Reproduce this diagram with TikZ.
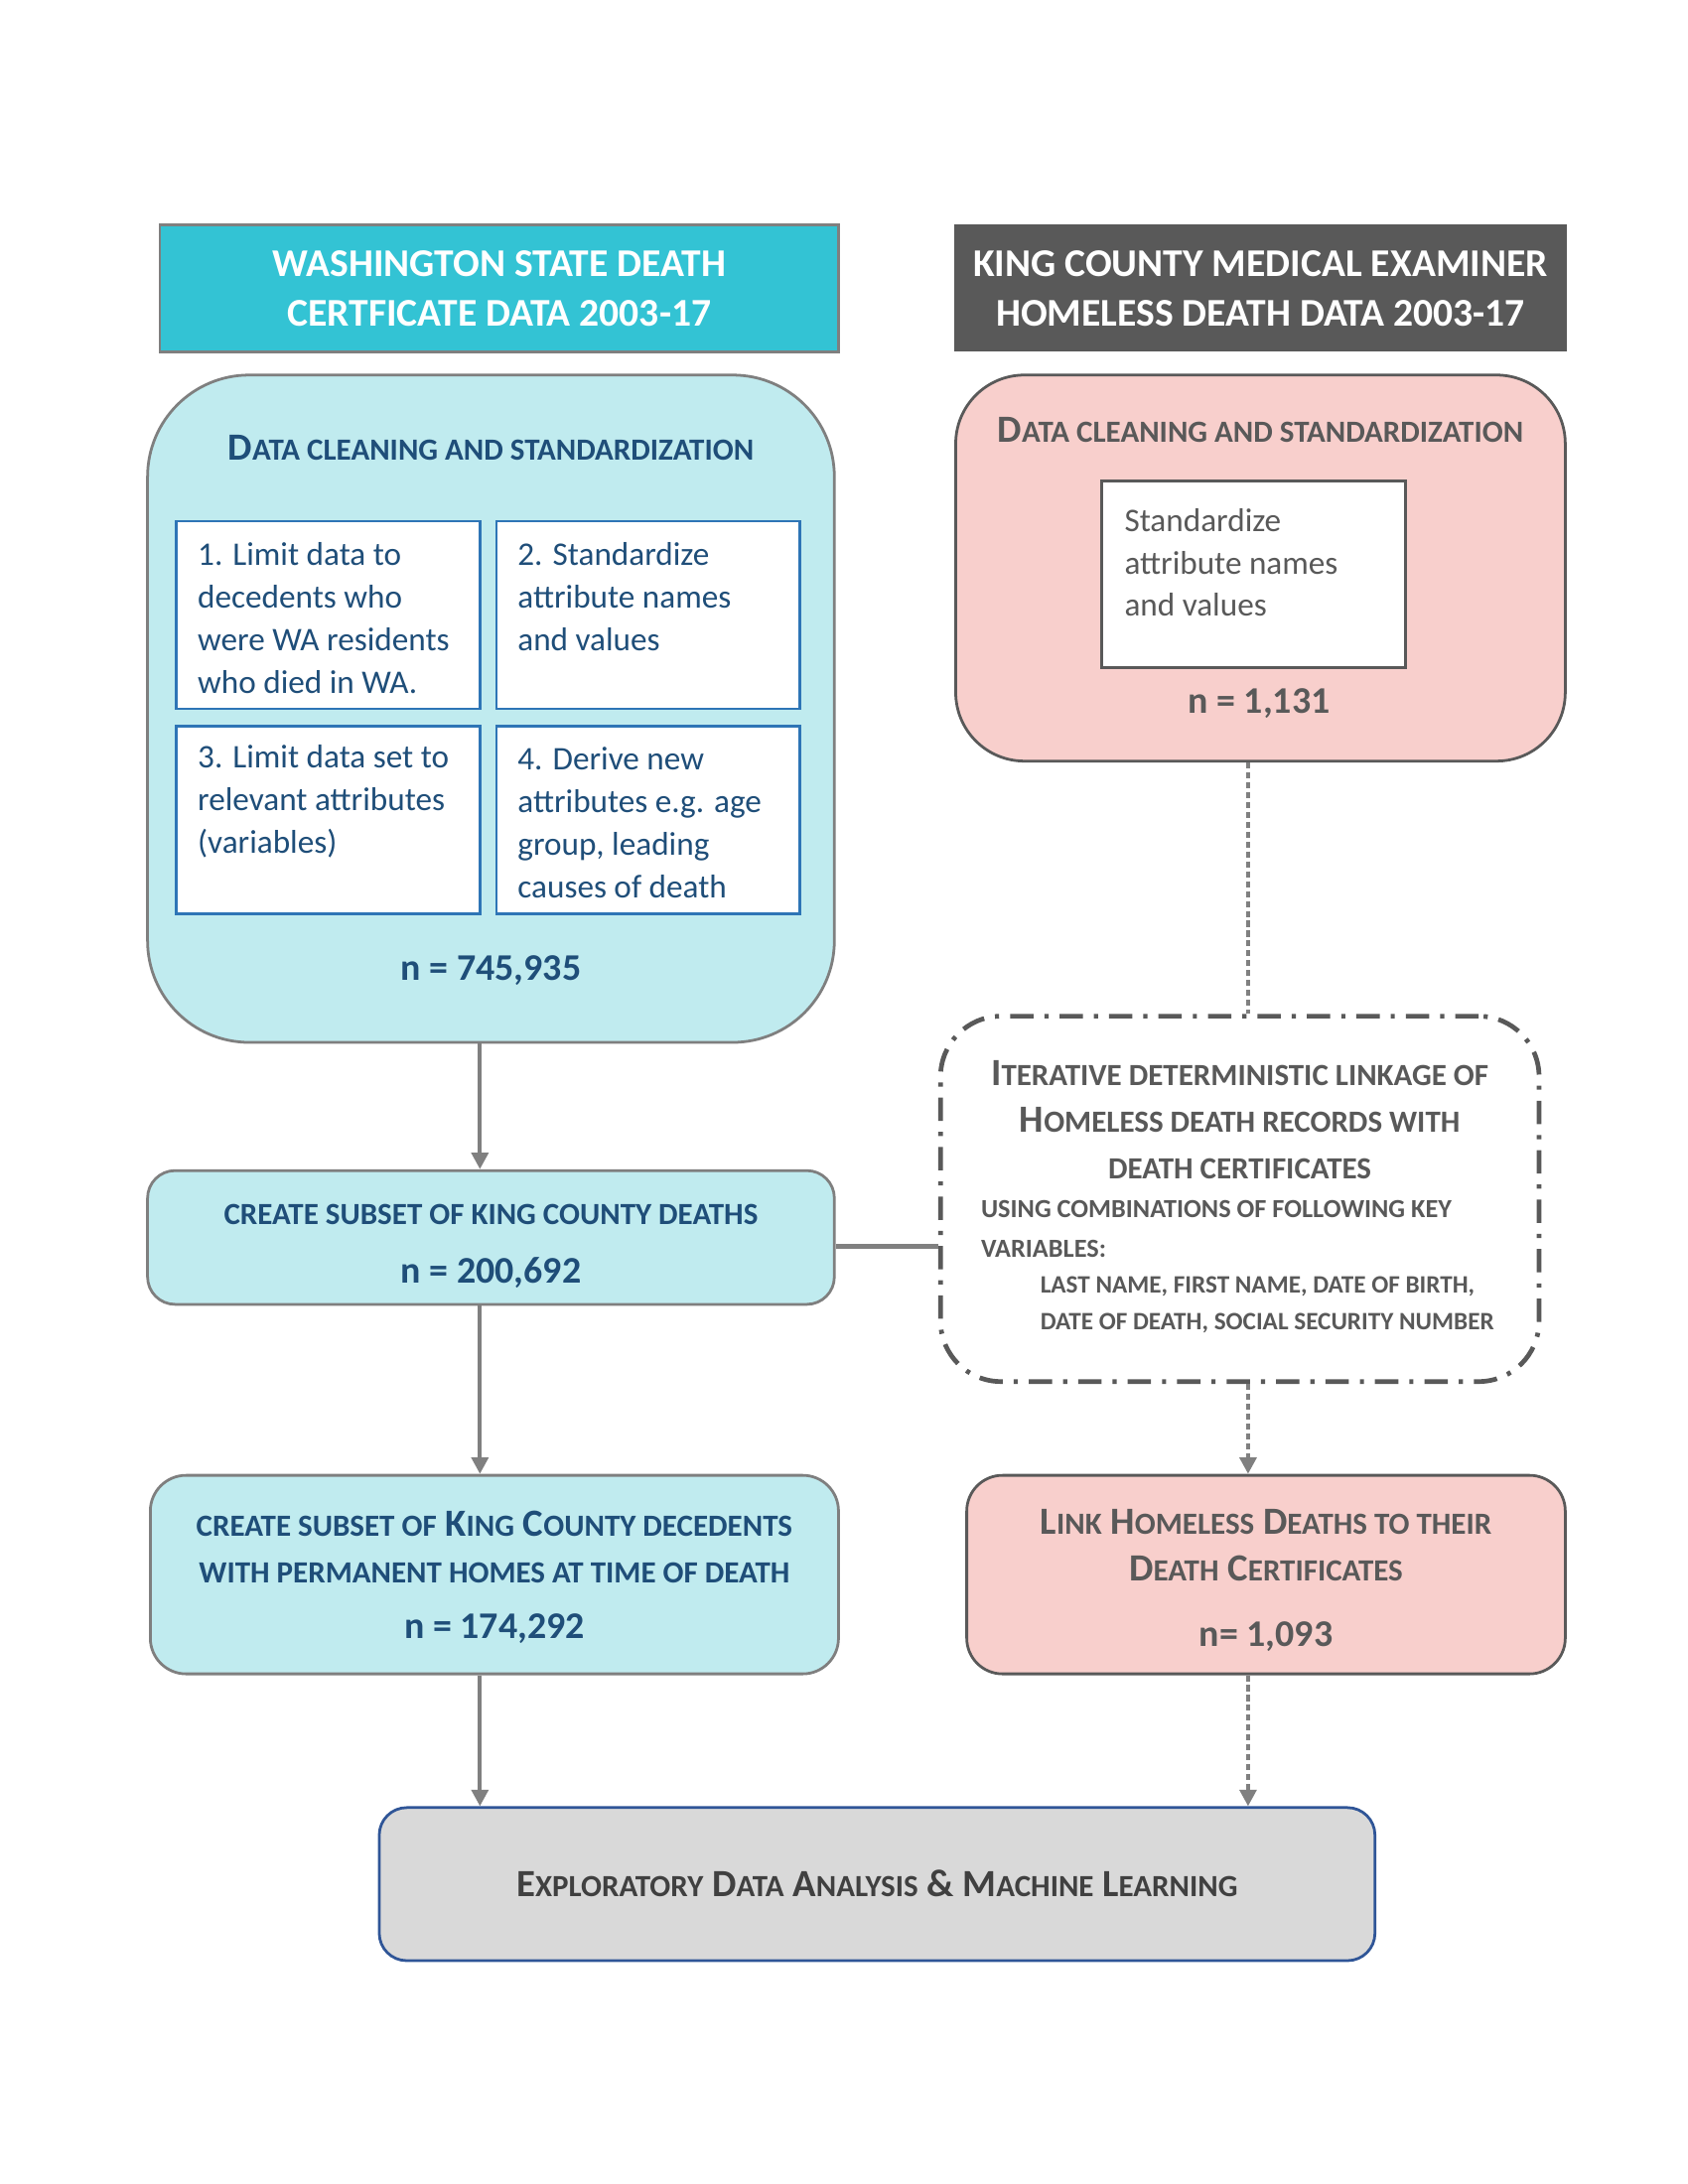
\documentclass[tikz,border=0pt]{standalone}
\usepackage{fontspec}
\setmainfont{Carlito}
\usetikzlibrary{arrows.meta}
\definecolor{hdrcyan}{HTML}{33C3D4}
\definecolor{hdrdark}{HTML}{595959}
\definecolor{lcyan}{HTML}{C0EBEF}
\definecolor{lpink}{HTML}{F8CFCC}
\definecolor{bordgray}{HTML}{7F7F7F}
\definecolor{borddark}{HTML}{595959}
\definecolor{innerblue}{HTML}{2E75B6}
\definecolor{txtblue}{HTML}{1F4E79}
\definecolor{txtgray}{HTML}{595959}
\definecolor{botfill}{HTML}{D9D9D9}
\definecolor{botbord}{HTML}{2F5597}
\definecolor{bottxt}{HTML}{404040}
\definecolor{arrgray}{HTML}{808080}
\def\UU{0.50186pt}
\newcommand{\sm}[2][11.2]{{\fontsize{#1}{17}\selectfont #2}}
\begin{document}
\begin{tikzpicture}[x=0.50186pt,y=-0.50186pt,
  hdr/.style={rectangle, inner sep=0pt, line width=1pt, text=white, align=center,
    font=\bfseries\fontsize{14.3}{18}\selectfont},
  bigbox/.style={rectangle, inner sep=0pt, line width=1pt},
  innerbox/.style={rectangle, draw=innerblue, line width=1pt, fill=white, inner sep=0pt,
    minimum width=220*\UU, minimum height=136*\UU},
  btext/.style={anchor=west, inner sep=0pt, align=left, text=txtblue,
    font=\fontsize{12}{15.5}\selectfont},
  head/.style={inner sep=0pt, align=center, font=\bfseries\fontsize{14}{17}\selectfont},
  nval/.style={inner sep=0pt, font=\bfseries\fontsize{13.7}{17}\selectfont},
  arr/.style={draw=arrgray, line width=1.5pt, -{Triangle[length=6pt,width=6pt]}},
  dotarr/.style={arr, dash pattern=on 2.2pt off 1.4pt},
  dotline/.style={draw=arrgray, line width=1.5pt, dash pattern=on 2.2pt off 1.4pt}
]
\fill[white] (0,0) rectangle (1224,1584);
\useasboundingbox (0,0) rectangle (1224,1584);

% headers
\node[hdr, fill=hdrcyan, draw=bordgray, minimum width=492*\UU, minimum height=92*\UU] (h1) at (362,209)
  {WASHINGTON STATE DEATH\\CERTFICATE DATA 2003-17};
\node[hdr, fill=hdrdark, minimum width=444*\UU, minimum height=92*\UU] (h2) at (914,209)
  {KING COUNTY MEDICAL EXAMINER\\HOMELESS DEATH DATA 2003-17};

% left big box
\node[bigbox, fill=lcyan, draw=bordgray, rounded corners=37pt, minimum width=498*\UU, minimum height=484*\UU] (big) at (356,514) {};
\node[head, text=txtblue] (lt) at (356,325) {D\sm{ATA CLEANING AND STANDARDIZATION}};
\node[innerbox] (b1) at (238,446) {};
\node[innerbox] (b2) at (470,446) {};
\node[innerbox] (b3) at (238,594.5) {};
\node[innerbox] (b4) at (470,594.5) {};
\node[btext] (t1) at (143,448.5) {1. Limit data to\\decedents who\\were WA residents\\who died in WA.};
\node[btext] (t2) at (375,433) {2. Standardize\\attribute names\\and values};
\node[btext] (t3) at (143,581) {3. Limit data set to\\relevant attributes\\(variables)};
\node[btext] (t4) at (375,596.5) {4. Derive new\\attributes e.g. age\\group, leading\\causes of death};
\node[nval, text=txtblue] (n1) at (356,704) {n = 745,935};

% right pink box
\node[bigbox, fill=lpink, draw=borddark, rounded corners=25pt, minimum width=442*\UU, minimum height=280*\UU] (rp) at (914,412) {};
\node[head, text=txtgray] (rt) at (914,312) {D\sm{ATA CLEANING AND STANDARDIZATION}};
\node[rectangle, draw=borddark, line width=1pt, fill=white, inner sep=0pt, minimum width=220*\UU, minimum height=135*\UU] (pb) at (909,416.5) {};
\node[btext, text=txtgray] (pt) at (815,408) {Standardize\\attribute names\\and values};
\node[nval, text=txtgray] (n2) at (913,510) {n = 1,131};

% dash-dot box
\node[rectangle, draw=borddark, line width=1.7pt, rounded corners=22pt,
  dash pattern=on 8.5pt off 4pt on 1.5pt off 4pt,
  minimum width=434*\UU, minimum height=265*\UU, inner sep=0pt] (dd) at (899,869.5) {};
\node[head, text=txtgray] (d1) at (899,812)
  {I\sm{TERATIVE DETERMINISTIC LINKAGE OF}\\H\sm{OMELESS DEATH RECORDS WITH}\\\sm{DEATH CERTIFICATES}};
\node[anchor=west, inner sep=0pt, align=left, text=txtgray, font=\bfseries\fontsize{9.5}{14.5}\selectfont] (d2) at (711,891.5)
  {USING COMBINATIONS OF FOLLOWING KEY\\VARIABLES:};
\node[anchor=west, inner sep=0pt, align=left, text=txtgray, font=\bfseries\fontsize{9.1}{13.5}\selectfont] (d3) at (754,946.5)
  {LAST NAME, FIRST NAME, DATE OF BIRTH,\\DATE OF DEATH, SOCIAL SECURITY NUMBER};

% left box 2
\node[bigbox, fill=lcyan, draw=bordgray, rounded corners=10pt, minimum width=498*\UU, minimum height=97*\UU] (s1) at (356,897.5) {};
\node[head, text=txtblue] (s1t) at (356,881) {\sm{CREATE SUBSET OF KING COUNTY DEATHS}};
\node[nval, text=txtblue] (n3) at (356,923) {n = 200,692};

% left box 3
\node[bigbox, fill=lcyan, draw=bordgray, rounded corners=13pt, minimum width=499*\UU, minimum height=144*\UU] (s2) at (358.5,1142) {};
\node[head, text=txtblue] (s2t) at (358.5,1122)
  {\sm{CREATE SUBSET OF} K\sm{ING} C\sm{OUNTY DECEDENTS}\\\sm{WITH PERMANENT HOMES AT TIME OF DEATH}};
\node[nval, text=txtblue] (n4) at (358.5,1181) {n = 174,292};

% right box 3
\node[bigbox, fill=lpink, draw=borddark, rounded corners=13pt, minimum width=434*\UU, minimum height=144*\UU] (lk) at (918,1142) {};
\node[head, text=txtgray] (lkt) at (918,1121)
  {L\sm{INK} H\sm{OMELESS} D\sm{EATHS TO THEIR}\\D\sm{EATH} C\sm{ERTIFICATES}};
\node[nval, text=txtgray] (n5) at (918,1187) {n= 1,093};

% bottom box
\node[bigbox, fill=botfill, draw=botbord, rounded corners=10pt, minimum width=722*\UU, minimum height=111*\UU] (bt) at (636,1366.5) {};
\node[head, text=bottxt] (btt) at (636,1366)
  {E\sm{XPLORATORY} D\sm{ATA} A\sm{NALYSIS} \& M\sm{ACHINE} L\sm{EARNING}};

% connectors
\coordinate (ax) at (348,0);
\coordinate (bx) at (905,0);
\draw[arr] (ax |- big.south) -- (ax |- s1.north);
\draw[arr] (ax |- s1.south) -- (ax |- s2.north);
\draw[arr] (ax |- s2.south) -- (ax |- bt.north);
\draw[dotline] (bx |- rp.south) -- (bx |- dd.north);
\draw[dotarr] (bx |- dd.south) -- (bx |- lk.north);
\draw[dotarr] (bx |- lk.south) -- (bx |- bt.north);
\draw[draw=arrgray, line width=1.5pt] (s1.east |- 0,904) -- (dd.west |- 0,904);
\end{tikzpicture}
\end{document}
